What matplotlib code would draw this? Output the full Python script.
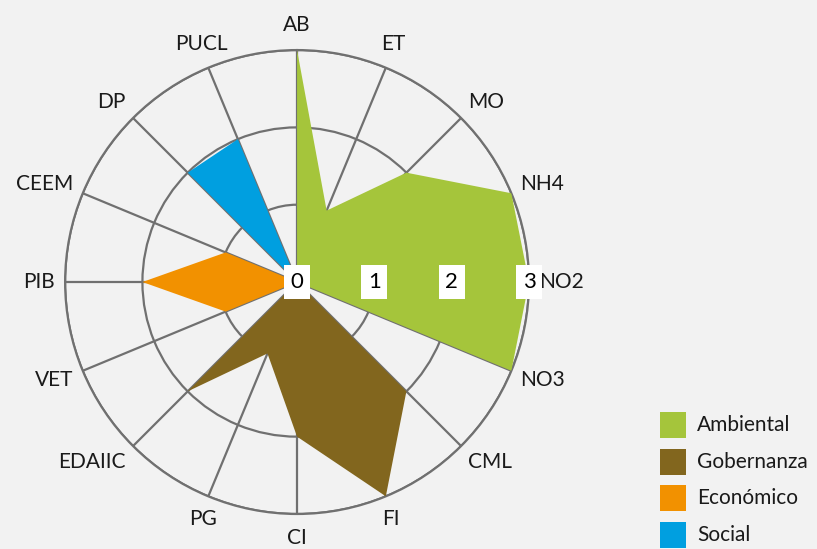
import numpy as np
import matplotlib
matplotlib.use("Agg")
import matplotlib.pyplot as plt
from matplotlib.patches import Rectangle

plt.rcParams['font.family'] = ['Lato', 'DejaVu Sans']

# indicators, clockwise from the top
categories = ["AB", "ET", "MO", "NH4", "NO2", "NO3", "CML", "FI", "CI",
              "PG", "EDAIIC", "VET", "PIB", "CEEM", "DP", "PUCL"]

# scores per dimension (0 where the indicator belongs to another dimension)
ambiental  = [3, 1, 2, 3, 3, 3, 0, 0, 0, 0, 0, 0, 0, 0, 0, 0]
gobernanza = [0, 0, 0, 0, 0, 0, 2, 3, 2, 1, 2, 0, 0, 0, 0, 0]
economico  = [0, 0, 0, 0, 0, 0, 0, 0, 0, 0, 0, 1, 2, 1, 0, 0]
social     = [0, 0, 0, 0, 0, 0, 0, 0, 0, 0, 0, 0, 0, 0, 2, 2]

series_names = ["Ambiental", "Gobernanza", "Económico", "Social"]
colors = ["#a5c53b", "#82661e", "#f29100", "#009fe0"]
r_ticks = [0, 1, 2, 3]

bg = "#f2f2f2"
grid_col = "#707070"
W, H = 817, 549

fig = plt.figure(figsize=(W / 100, H / 100), dpi=100, facecolor=bg)
ax = fig.add_axes([0.0796, 0.0638, 0.568, 0.845], projection="polar")
ax.set_facecolor(bg)
ax.set_theta_zero_location("N")
ax.set_theta_direction(-1)

n = len(categories)
angles = np.arange(n) * 2 * np.pi / n

for vals, col in zip([ambiental, gobernanza, economico, social], colors):
    a = np.append(angles, angles[0])
    v = np.append(vals, vals[0])
    ax.fill(a, v, color=col, lw=0, zorder=3)

ax.set_ylim(0, 3)
ax.set_rgrids([1, 2, 3], labels=[])
ax.set_thetagrids(np.degrees(angles), labels=[])
ax.grid(True, color=grid_col, lw=1.6)
ax.spines['polar'].set_color(grid_col)
ax.spines['polar'].set_linewidth(1.6)
ax.set_axisbelow(True)

# category labels outside the outer ring
rpx = 232.0  # outer radius in pixels
for ang, lab in zip(angles, categories):
    s, c = np.sin(ang), np.cos(ang)
    dy = 0
    if abs(s) > 0.6:
        ha = "left" if s > 0 else "right"
        va = "center"
        dist = 242
        dy = 13 * c
    elif c > 0:
        ha, va, dist = "center", "baseline", 251
    else:
        ha, va, dist = "center", "top", 246
    ax.annotate(lab, xy=(ang, 3 * dist / rpx), xytext=(0, dy),
                textcoords="offset pixels", ha=ha, va=va, fontsize=15,
                color="#1a1a1a", annotation_clip=False)

# radial tick labels along the NO2 spoke
for t in r_ticks:
    ax.text(np.pi / 2, t, str(t), ha="center", va="center", fontsize=16,
            color="black", zorder=5,
            bbox=dict(boxstyle="square,pad=0.3", fc="white", ec="none"))

# legend drawn by hand: squares + labels
sq = 26
for i, (name, col) in enumerate(zip(series_names, colors)):
    yc = 425 + i * 36.7
    fig.patches.append(Rectangle((660 / W, 1 - (yc + sq / 2) / H), sq / W, sq / H,
                                 transform=fig.transFigure, color=col, lw=0))
    fig.text(697 / W, 1 - yc / H, name, ha="left", va="center", fontsize=15,
             color="#1a1a1a")

fig.savefig("out.png", dpi=100, facecolor=bg)
